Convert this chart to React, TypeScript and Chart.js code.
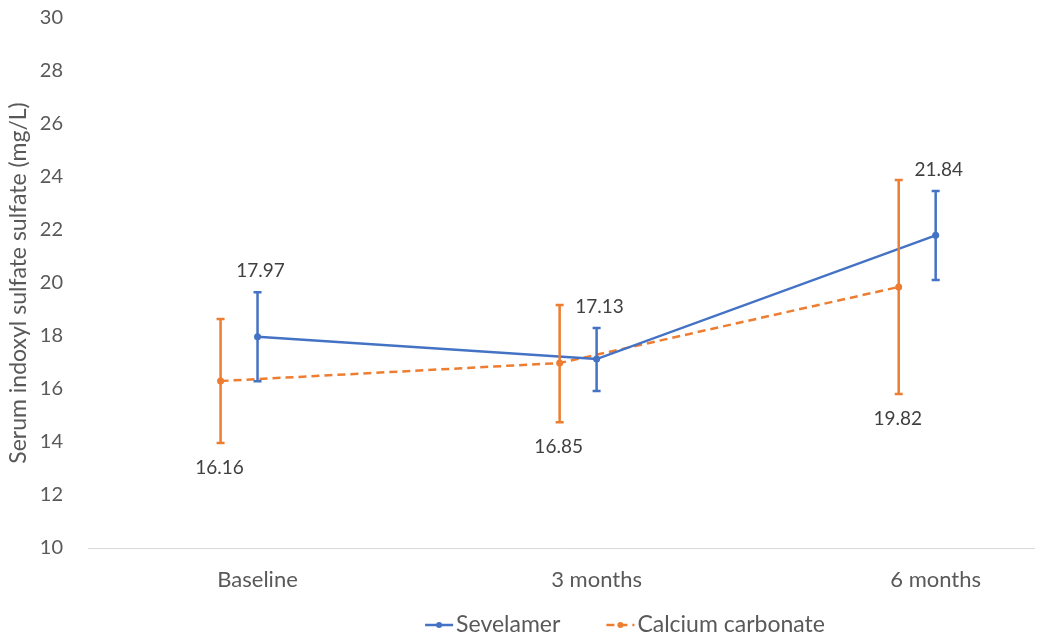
import React, { useEffect, useRef } from "react";
import { Chart, registerables } from "chart.js";

Chart.register(...registerables);

const categories = ["Baseline", "3 months", "6 months"];
const seriesNames = ["Sevelamer", "Calcium carbonate"];

const sevelamerMean = [17.97, 17.13, 21.8];
const sevelamerUpper = [19.65, 18.3, 23.47];
const sevelamerLower = [16.29, 15.92, 20.11];
const sevelamerLabels = ["17.97", "17.13", "21.84"];

const calciumMean = [16.3, 16.98, 19.85];
const calciumUpper = [18.64, 19.17, 23.89];
const calciumLower = [13.96, 14.75, 15.81];
const calciumLabels = ["16.16", "16.85", "19.82"];

const yMin = 10;
const yMax = 30;
const yStep = 2;

const BLUE = "#4472C4";
const ORANGE = "#ED7D31";
const FONT = "Lato, 'Open Sans', sans-serif";
const CAL_OFFSET = -0.109;

const errorPlugin = {
  id: "errorBarsAndLabels",
  afterDatasetsDraw(chart: any) {
    const { ctx, scales } = chart;
    const y = scales.y;
    chart.data.datasets.forEach((ds: any, i: number) => {
      const meta = chart.getDatasetMeta(i);
      ctx.save();
      ctx.strokeStyle = ds.borderColor;
      ctx.lineWidth = 2.5;
      ctx.setLineDash([]);
      ds.errUpper.forEach((up: number, j: number) => {
        const px = meta.data[j].x;
        const top = y.getPixelForValue(up);
        const bot = y.getPixelForValue(ds.errLower[j]);
        ctx.beginPath();
        ctx.moveTo(px, top);
        ctx.lineTo(px, bot);
        ctx.moveTo(px - 4, top);
        ctx.lineTo(px + 4, top);
        ctx.moveTo(px - 4, bot);
        ctx.lineTo(px + 4, bot);
        ctx.stroke();
        ctx.fillStyle = "#404040";
        ctx.font = `19px ${FONT}`;
        ctx.textAlign = "center";
        ctx.textBaseline = "middle";
        if (ds.labelAbove) {
          ctx.fillText(ds.valueLabels[j], px + 3, top - 21);
        } else {
          ctx.fillText(ds.valueLabels[j], px - 1, bot + 25);
        }
      });
      ctx.restore();
    });
  },
  afterDraw(chart: any) {
    const { ctx } = chart;
    const cy = 625;
    ctx.save();
    ctx.font = `23px ${FONT}`;
    ctx.textBaseline = "middle";
    ctx.textAlign = "left";
    const marker = 28;
    const gap = 3;
    const between = 46;
    const widths = chart.data.datasets.map(
      (ds: any) => marker + gap + ctx.measureText(ds.label).width
    );
    const total = widths.reduce((a: number, b: number) => a + b, 0) + between;
    let x = 625 - total / 2;
    chart.data.datasets.forEach((ds: any, i: number) => {
      ctx.strokeStyle = ds.borderColor;
      ctx.fillStyle = ds.borderColor;
      ctx.lineWidth = 2.5;
      ctx.setLineDash(ds.borderDash || []);
      ctx.beginPath();
      ctx.moveTo(x, cy);
      ctx.lineTo(x + marker, cy);
      ctx.stroke();
      ctx.setLineDash([]);
      ctx.beginPath();
      ctx.arc(x + marker / 2, cy, 3, 0, Math.PI * 2);
      ctx.fill();
      ctx.fillStyle = "#595959";
      ctx.fillText(ds.label, x + marker + gap, cy);
      x += widths[i] + between;
    });
    ctx.restore();
  },
};

export default function App() {
  const ref = useRef<HTMLCanvasElement | null>(null);
  useEffect(() => {
    if (!ref.current) return;
    const chart = new Chart(ref.current, {
      type: "line",
      data: {
        datasets: [
          {
            label: seriesNames[0],
            data: sevelamerMean.map((v, i) => ({ x: i + 1, y: v })),
            borderColor: BLUE,
            backgroundColor: BLUE,
            borderWidth: 2.5,
            pointRadius: 3.5,
            pointBackgroundColor: BLUE,
            pointBorderWidth: 0,
            errUpper: sevelamerUpper,
            errLower: sevelamerLower,
            valueLabels: sevelamerLabels,
            labelAbove: true,
          } as any,
          {
            label: seriesNames[1],
            data: calciumMean.map((v, i) => ({ x: i + 1 + CAL_OFFSET, y: v })),
            borderColor: ORANGE,
            backgroundColor: ORANGE,
            borderWidth: 2.5,
            borderDash: [8, 5],
            pointRadius: 3.5,
            pointBackgroundColor: ORANGE,
            pointBorderWidth: 0,
            errUpper: calciumUpper,
            errLower: calciumLower,
            valueLabels: calciumLabels,
            labelAbove: false,
          } as any,
        ],
      },
      options: {
        animation: false,
        responsive: true,
        maintainAspectRatio: false,
        layout: { padding: { top: 18, bottom: 41, left: 0, right: 0 } },
        plugins: {
          legend: { display: false },
          tooltip: { enabled: false },
        },
        scales: {
          x: {
            type: "linear",
            min: 0.5,
            max: 3.29,
            grid: { display: false, drawTicks: false },
            border: { display: true, color: "#D9D9D9", width: 1 },
            afterBuildTicks: (scale: any) => {
              scale.ticks = categories.map((_, i) => ({ value: i + 1 }));
            },
            afterFit: (scale: any) => {
              scale.height = 50;
              scale.paddingLeft = 0;
              scale.paddingRight = 0;
            },
            ticks: {
              autoSkip: false,
              maxRotation: 0,
              padding: 19,
              color: "#595959",
              font: { family: FONT, size: 22 },
              callback: (v: any) => categories[Math.round(Number(v)) - 1] ?? "",
            },
          },
          y: {
            min: yMin,
            max: yMax,
            grid: { display: false, drawTicks: false },
            border: { display: false },
            afterFit: (scale: any) => {
              scale.width = 88;
              scale.paddingTop = 0;
              scale.paddingBottom = 0;
            },
            ticks: {
              stepSize: yStep,
              padding: 25,
              color: "#595959",
              font: { family: FONT, size: 20 },
            },
            title: {
              display: true,
              text: "Serum indoxyl sulfate sulfate (mg/L)",
              color: "#595959",
              font: { family: FONT, size: 23 },
              padding: { top: 5, bottom: 0 },
            },
          },
        },
      },
      plugins: [errorPlugin],
    });
    return () => chart.destroy();
  }, []);
  return (
    <div style={{ position: "fixed", left: 0, top: 0, width: 1038, height: 639, background: "#fff" }}>
      <canvas ref={ref} />
    </div>
  );
}
